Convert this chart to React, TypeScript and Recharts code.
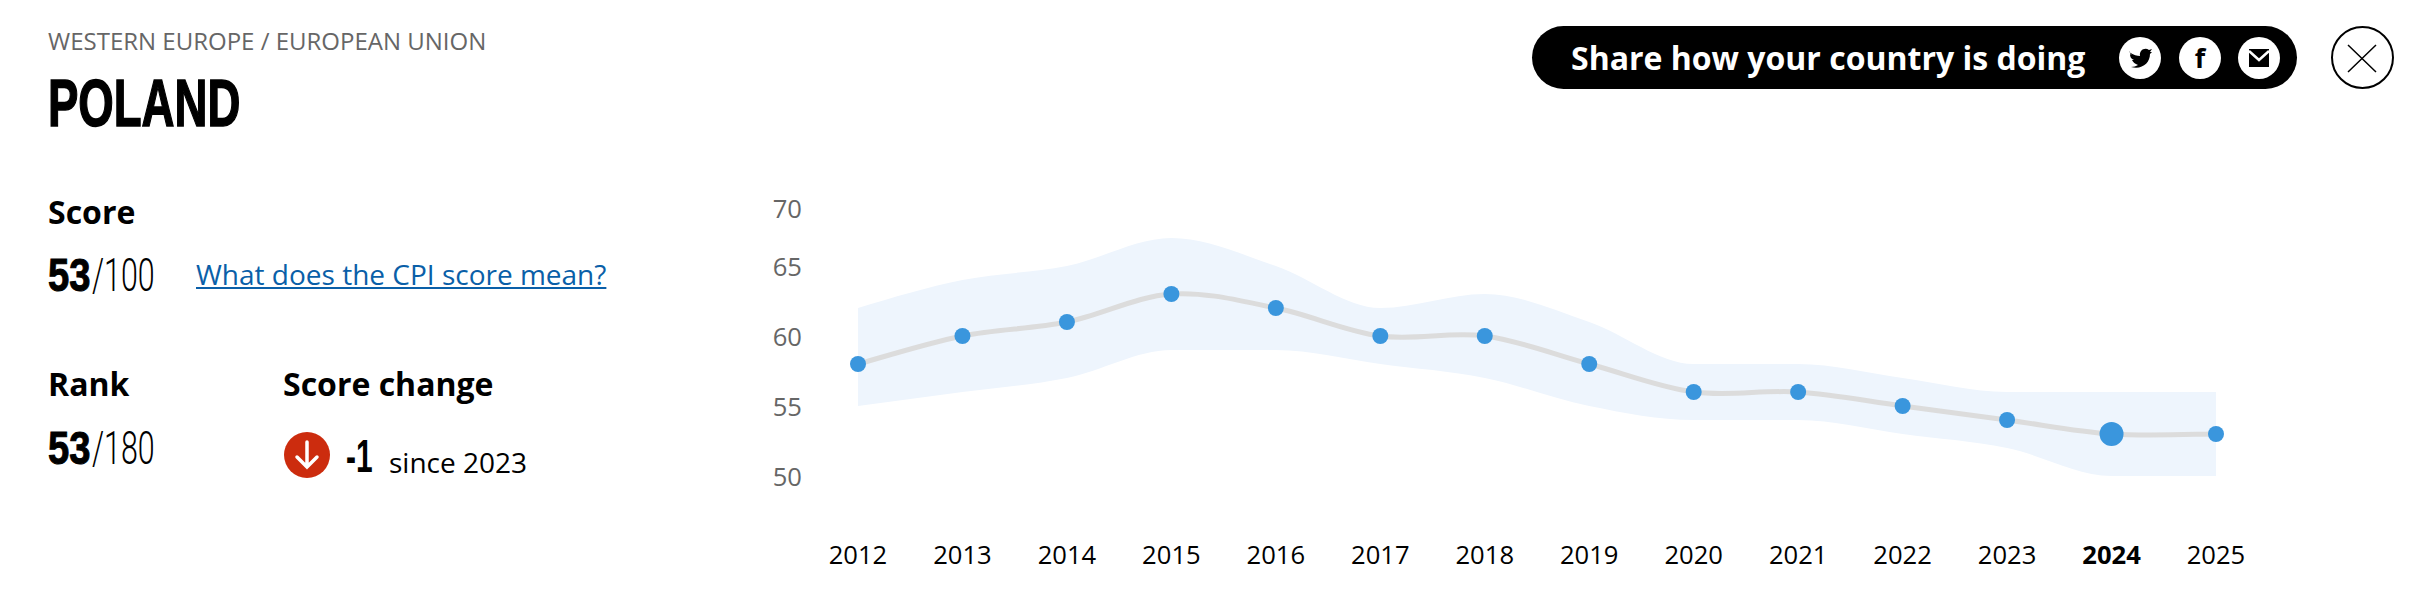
import { Area, ComposedChart, Line, XAxis, YAxis } from "recharts"

const years = [2012, 2013, 2014, 2015, 2016, 2017, 2018, 2019, 2020, 2021, 2022, 2023, 2024, 2025]
const scores = [58, 60, 61, 63, 62, 60, 60, 58, 56, 56, 55, 54, 53, 53]
const upperBound = [62, 64, 65, 67, 65, 62, 63, 61, 58, 58, 57, 56, 56, 56]
const lowerBound = [55, 56, 57, 59, 59, 58, 57, 55, 54, 54, 53, 52, 50, 50]
const yTicks = [50, 55, 60, 65, 70]
const currentYear = 2024

const data = years.map((year, i) => ({
  year,
  score: scores[i],
  range: [lowerBound[i], upperBound[i]],
}))

const bodyFont = "'Open Sans', 'Noto Sans', sans-serif"
const headFont = "'Liberation Sans', sans-serif"
const thinFont = "Roboto, 'Liberation Sans', sans-serif"

// the score line overshoots between points, which the built-in curve types don't do
function catmullRom(context: any) {
  let pts: number[][] = []
  return {
    areaStart() {},
    areaEnd() {},
    lineStart() {
      pts = []
    },
    point(x: number, y: number) {
      pts.push([+x, +y])
    },
    lineEnd() {
      pts.forEach((p, i) => {
        if (i === 0) {
          context.moveTo(p[0], p[1])
          return
        }
        const p0 = pts[i - 1]
        const prev = pts[i - 2] || p0
        const next = pts[i + 1] || p
        context.bezierCurveTo(
          p0[0] + (p[0] - prev[0]) / 6,
          p0[1] + (p[1] - prev[1]) / 6,
          p[0] - (next[0] - p0[0]) / 6,
          p[1] - (next[1] - p0[1]) / 6,
          p[0],
          p[1],
        )
      })
    },
  }
}

function ScoreDot({ cx, cy, payload }: any) {
  return <circle cx={cx} cy={cy} r={payload.year === currentYear ? 12 : 8} fill="#3a96dd" />
}

function YearTick({ x, y, payload }: any) {
  return (
    <text
      x={x}
      y={y}
      textAnchor="middle"
      dominantBaseline="central"
      fontFamily={bodyFont}
      fontSize={25.6}
      fontWeight={payload.value === currentYear ? 700 : 400}
      fill="#000"
    >
      {payload.value}
    </text>
  )
}

// the top label sits closer to 65 than the scale would put it
function ScoreTick({ x, y, payload }: any) {
  return (
    <text
      x={x}
      y={payload.value === 70 ? y + 12 : y}
      textAnchor="end"
      dominantBaseline="central"
      fontFamily={bodyFont}
      fontSize={25.6}
      fill="#666"
    >
      {payload.value}
    </text>
  )
}

function Label({ x, y, size, font = bodyFont, weight = 400, color = "#000", squeeze = 1, children, style }: any) {
  return (
    <div
      style={{
        position: "absolute",
        left: x,
        top: y - 40,
        height: 80,
        lineHeight: "80px",
        fontFamily: font,
        fontSize: size,
        fontWeight: weight,
        color,
        whiteSpace: "nowrap",
        transform: `scaleX(${squeeze})`,
        transformOrigin: "left",
        ...style,
      }}
    >
      {children}
    </div>
  )
}

function Fraction({ x, y, value, total }: any) {
  return (
    <>
      <Label x={x} y={y} size={46} font={headFont} weight={700} squeeze={0.83} style={{ WebkitTextStroke: "1px #000" }}>
        {value}
      </Label>
      <Label x={x + 44} y={y} size={46} font={thinFont} weight={300} squeeze={0.66}>
        /{total}
      </Label>
    </>
  )
}

function Icons() {
  return (
    <svg width={2416} height={594} style={{ position: "absolute", left: 0, top: 0 }}>
      <rect x={1532} y={26} width={765} height={63} rx={31.5} fill="#000" />
      <circle cx={2140} cy={58} r={21} fill="#fff" />
      <path
        d="M2129 52c5 3 8 4 11 4 -1-6 5-9 9-6l3-1-2 3 2 0-2 2c0 9-8 16-19 13 3 0 5-1 7-2-3-1-5-3-6-5l2 0c-3-1-4-3-4-6l2 1c-3-2-3-5-3-3z"
        fill="#000"
      />
      <circle cx={2200} cy={58} r={21} fill="#fff" />
      <text x={2200} y={68} textAnchor="middle" fontFamily={bodyFont} fontWeight={700} fontSize={27} fill="#000">
        f
      </text>
      <circle cx={2259} cy={58} r={21} fill="#fff" />
      <path d="M2249 49h20v18h-20z" fill="#000" />
      <path d="M2249 51l10 9 10-9" fill="none" stroke="#fff" strokeWidth={2.5} />
      <circle cx={2362.5} cy={57.5} r={30.5} fill="#fff" stroke="#000" strokeWidth={2} />
      <path d="M2348 45l28 27M2376 45l-28 27" stroke="#000" strokeWidth={1.5} />
      <circle cx={307} cy={455} r={23} fill="#cc2c0e" />
      <path d="M307 442v25M297 457l10 10 10-10" fill="none" stroke="#fff" strokeWidth={3.5} strokeLinecap="round" />
    </svg>
  )
}

export default function App() {
  return (
    <div style={{ position: "absolute", left: 0, top: 0, width: 2416, height: 594, background: "#fff", overflow: "hidden" }}>
      <Icons />
      <Label x={48} y={41} size={24} color="#666">
        WESTERN EUROPE / EUROPEAN UNION
      </Label>
      <Label x={48} y={103} size={66} font={headFont} weight={700} squeeze={0.69} style={{ WebkitTextStroke: "1.5px #000" }}>
        POLAND
      </Label>
      <Label x={48} y={212} size={32} weight={700}>
        Score
      </Label>
      <Fraction x={48} y={275} value={53} total={100} />
      <Label x={196} y={274} size={28} color="#0a5fa8" style={{ textDecoration: "underline" }}>
        What does the CPI score mean?
      </Label>
      <Label x={48} y={384} size={32} weight={700}>
        Rank
      </Label>
      <Fraction x={48} y={448} value={53} total={180} />
      <Label x={283} y={384} size={32} weight={700}>
        Score change
      </Label>
      <Label x={346} y={456} size={46} font={headFont} weight={700} squeeze={0.65}>
        -1
      </Label>
      <Label x={389} y={462} size={28}>
        since 2023
      </Label>
      <Label x={1571} y={58} size={32} weight={700} color="#fff">
        Share how your country is doing
      </Label>

      <div style={{ position: "absolute", left: 740, top: 120 }}>
        <ComposedChart
          width={1540}
          height={474}
          data={data}
          margin={{ top: 76, right: 64, bottom: 58, left: 0 }}
        >
          <XAxis
            dataKey="year"
            scale="point"
            axisLine={false}
            tickLine={false}
            tickMargin={72}
            height={60}
            interval={0}
            tick={<YearTick />}
          />
          <YAxis
            width={118}
            domain={[50, 70]}
            ticks={yTicks}
            axisLine={false}
            tickLine={false}
            tickMargin={50}
            interval={0}
            tick={<ScoreTick />}
          />
          <Area
            dataKey="range"
            type="monotoneX"
            stroke="none"
            fill="#eef5fd"
            fillOpacity={1}
            dot={false}
            activeDot={false}
            isAnimationActive={false}
          />
          <Line
            dataKey="score"
            type={catmullRom as any}
            stroke="#dcdcdc"
            strokeWidth={5}
            dot={<ScoreDot />}
            activeDot={false}
            isAnimationActive={false}
          />
        </ComposedChart>
      </div>
    </div>
  )
}
